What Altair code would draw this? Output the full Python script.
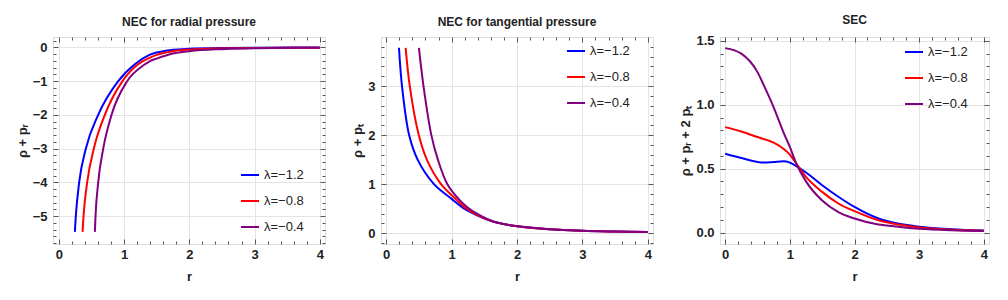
import altair as alt
import pandas as pd

FONT = "Liberation Sans"
series = ["λ=−1.2", "λ=−0.8", "λ=−0.4"]
colors = ["#0000ff", "#ff0000", "#800080"]

# ---- NEC for radial pressure ----
rad_r_a = [0.245, 0.26, 0.311, 0.414, 0.603, 0.91, 1.165, 1.39, 1.5, 1.75, 2.0, 2.5, 3.0, 4.0]
rad_v_a = [-5.47, -5.0, -4.0, -3.0, -2.0, -1.0, -0.5, -0.22, -0.15, -0.07, -0.04, -0.015, -0.008, -0.003]
rad_r_b = [0.363, 0.378, 0.434, 0.536, 0.705, 0.975, 1.216, 1.39, 1.5, 1.75, 2.0, 2.5, 3.0, 4.0]
rad_v_b = [-5.47, -5.0, -4.0, -3.0, -2.0, -1.0, -0.5, -0.31, -0.22, -0.11, -0.065, -0.03, -0.015, -0.006]
rad_r_c = [0.552, 0.562, 0.603, 0.68, 0.807, 1.047, 1.32, 1.39, 1.5, 1.75, 2.0, 2.5, 3.0, 4.0]
rad_v_c = [-5.47, -5.0, -4.0, -3.0, -2.0, -1.0, -0.5, -0.41, -0.33, -0.18, -0.11, -0.05, -0.025, -0.01]

# ---- NEC for tangential pressure ----
tan_r_a = [0.195, 0.241, 0.35, 0.48, 0.73, 1.0, 1.18, 1.38, 1.64, 2.0, 2.5, 3.0, 3.5, 4.0]
tan_v_a = [3.78, 3.0, 2.0, 1.5, 1.0, 0.70, 0.51, 0.37, 0.235, 0.14, 0.08, 0.05, 0.035, 0.025]
tan_r_b = [0.297, 0.36, 0.498, 0.621, 0.838, 1.07, 1.2, 1.38, 1.64, 2.0, 2.5, 3.0, 3.5, 4.0]
tan_v_b = [3.78, 3.0, 2.0, 1.5, 1.0, 0.69, 0.53, 0.38, 0.237, 0.142, 0.08, 0.05, 0.035, 0.025]
tan_r_c = [0.50, 0.57, 0.69, 0.79, 0.935, 1.12, 1.25, 1.4, 1.64, 2.0, 2.5, 3.0, 3.5, 4.0]
tan_v_c = [3.78, 3.0, 2.0, 1.5, 1.0, 0.68, 0.52, 0.39, 0.24, 0.145, 0.082, 0.05, 0.035, 0.025]

# ---- SEC ----
sec_r_a = [0, 0.25, 0.5, 0.6, 0.75, 0.9, 1.0, 1.1, 1.25, 1.5, 1.75, 2.0, 2.37, 2.5, 3.0, 3.5, 4.0]
sec_v_a = [0.617, 0.583, 0.552, 0.548, 0.552, 0.557, 0.547, 0.52, 0.47, 0.37, 0.28, 0.20, 0.11, 0.09, 0.045, 0.025, 0.015]
sec_r_b = [0, 0.25, 0.5, 0.75, 0.9, 1.0, 1.1, 1.25, 1.5, 1.75, 2.0, 2.37, 2.5, 3.0, 3.5, 4.0]
sec_v_b = [0.825, 0.79, 0.747, 0.703, 0.656, 0.61, 0.54, 0.435, 0.318, 0.227, 0.167, 0.096, 0.08, 0.04, 0.022, 0.013]
sec_r_c = [0, 0.25, 0.5, 0.6, 0.75, 0.9, 1.0, 1.1, 1.25, 1.5, 1.75, 2.0, 2.37, 2.5, 3.0, 3.5, 4.0]
sec_v_c = [1.443, 1.40, 1.255, 1.15, 0.98, 0.786, 0.67, 0.54, 0.40, 0.25, 0.16, 0.11, 0.063, 0.055, 0.03, 0.018, 0.012]

x_major = [0, 1, 2, 3, 4]
x_minor = [0.2, 0.4, 0.6, 0.8, 1.2, 1.4, 1.6, 1.8, 2.2, 2.4, 2.6, 2.8, 3.2, 3.4, 3.6, 3.8]
rad_y_major = [-5, -4, -3, -2, -1, 0]
rad_y_minor = [round(-5.8 + 0.2 * i, 1) for i in range(31)]
tan_y_major = [0, 1, 2, 3]
tan_y_minor = [round(-0.2 + 0.2 * i, 1) for i in range(21)]
sec_y_major = [0, 0.5, 1.0, 1.5]
sec_y_minor = [round(0.1 * i, 1) for i in range(16)]

MAJ = 5
MIN = 3


def make_df(rs, vs):
    rows = []
    for name, r, v in zip(series, rs, vs):
        for a, b in zip(r, v):
            rows.append({"r": a, "v": b, "s": name})
    return pd.DataFrame(rows)


def panel(df, title, ytitle, xdom, ydom, ymaj, ymin, yfmt, lx, ly, w, h, interp):
    ymin = [t for t in ymin if t not in ymaj]
    xs = alt.Scale(domain=xdom, nice=False, zero=False)
    ys = alt.Scale(domain=ydom, nice=False, zero=False)
    lab = dict(labelFont=FONT, labelFontSize=13, labelFontWeight="bold", labelColor="#222222",
               domain=False, tickColor="#555555", tickWidth=1)
    xa = alt.Axis(orient="bottom", values=x_major, format="d", offset=-MAJ, tickSize=MAJ,
                  labelPadding=4, grid=True, gridColor="#e4e4e4", gridWidth=1,
                  title="r", titleFont=FONT, titleFontSize=13, titleFontWeight="bold",
                  titleColor="#222222", titlePadding=9, labelFlush=False, **lab)
    ya = alt.Axis(orient="left", values=ymaj, format=yfmt, offset=-MAJ, tickSize=MAJ,
                  labelPadding=6, grid=True, gridColor="#e4e4e4", gridWidth=1,
                  title=ytitle, titleFont=FONT, titleFontSize=13, titleFontWeight="bold",
                  titleColor="#222222", titlePadding=3, labelFlush=False, **lab)
    lines = alt.Chart(df).mark_line(strokeWidth=2, interpolate=interp, clip=True).encode(
        x=alt.X("r:Q", scale=xs, axis=xa),
        y=alt.Y("v:Q", scale=ys, axis=ya),
        color=alt.Color("s:N", scale=alt.Scale(domain=series, range=colors),
                        legend=alt.Legend(orient="none", legendX=lx, legendY=ly, title=None,
                                          symbolType="stroke", symbolSize=324, symbolStrokeWidth=2,
                                          labelFont=FONT, labelFontSize=13, labelColor="#222222",
                                          labelOffset=4, rowPadding=9, padding=0)),
    )

    def ticks(xo, yo, xv, yv, size):
        return alt.Chart(df).mark_point(opacity=0).encode(
            x=alt.X("r:Q", scale=xs, axis=alt.Axis(orient=xo, values=xv, offset=-size, tickSize=size,
                                                   labels=False, domain=False, grid=False, title=None,
                                                   tickColor="#555555")),
            y=alt.Y("v:Q", scale=ys, axis=alt.Axis(orient=yo, values=yv, offset=-size, tickSize=size,
                                                   labels=False, domain=False, grid=False, title=None,
                                                   tickColor="#555555")),
        )

    layers = alt.layer(
        lines,
        ticks("top", "right", x_major, ymaj, MAJ),
        ticks("bottom", "left", x_minor, ymin, MIN),
        ticks("top", "right", x_minor, ymin, MIN),
    ).resolve_axis(x="independent", y="independent").properties(
        width=w, height=h,
        title=alt.TitleParams(title, font=FONT, fontSize=12, fontWeight="bold", color="#222222",
                              offset=8, frame="group", anchor="middle"),
    )
    return layers


p1 = panel(make_df([rad_r_a, rad_r_b, rad_r_c], [rad_v_a, rad_v_b, rad_v_c]),
           "NEC for radial pressure", "ρ + pᵣ", [-0.09, 4.08], [-5.83, 0.31],
           rad_y_major, rad_y_minor, "d", 187, 128, 272, 207, "monotone")
p2 = panel(make_df([tan_r_a, tan_r_b, tan_r_c], [tan_v_a, tan_v_b, tan_v_c]),
           "NEC for tangential pressure", "ρ + pₜ", [-0.08, 4.08], [-0.22, 4.0],
           tan_y_major, tan_y_minor, "d", 185, 4, 272, 207, "catmull-rom")
p3 = panel(make_df([sec_r_a, sec_r_b, sec_r_c], [sec_v_a, sec_v_b, sec_v_c]),
           "SEC", "ρ + pᵣ + 2 pₜ", [-0.08, 4.08], [-0.09, 1.53],
           sec_y_major, sec_y_minor, ".1f", 184, 5, 269, 207, "monotone")

chart = alt.hconcat(p1, p2, p3, spacing=25).resolve_scale(color="independent").resolve_legend(
    color="independent"
).properties(
    padding={"left": 7, "top": 5, "right": 5, "bottom": 5}
).configure_view(stroke="#888888", strokeWidth=1).configure(background="white")

chart.save("out.html", embed_options={"renderer": "svg", "actions": False})
